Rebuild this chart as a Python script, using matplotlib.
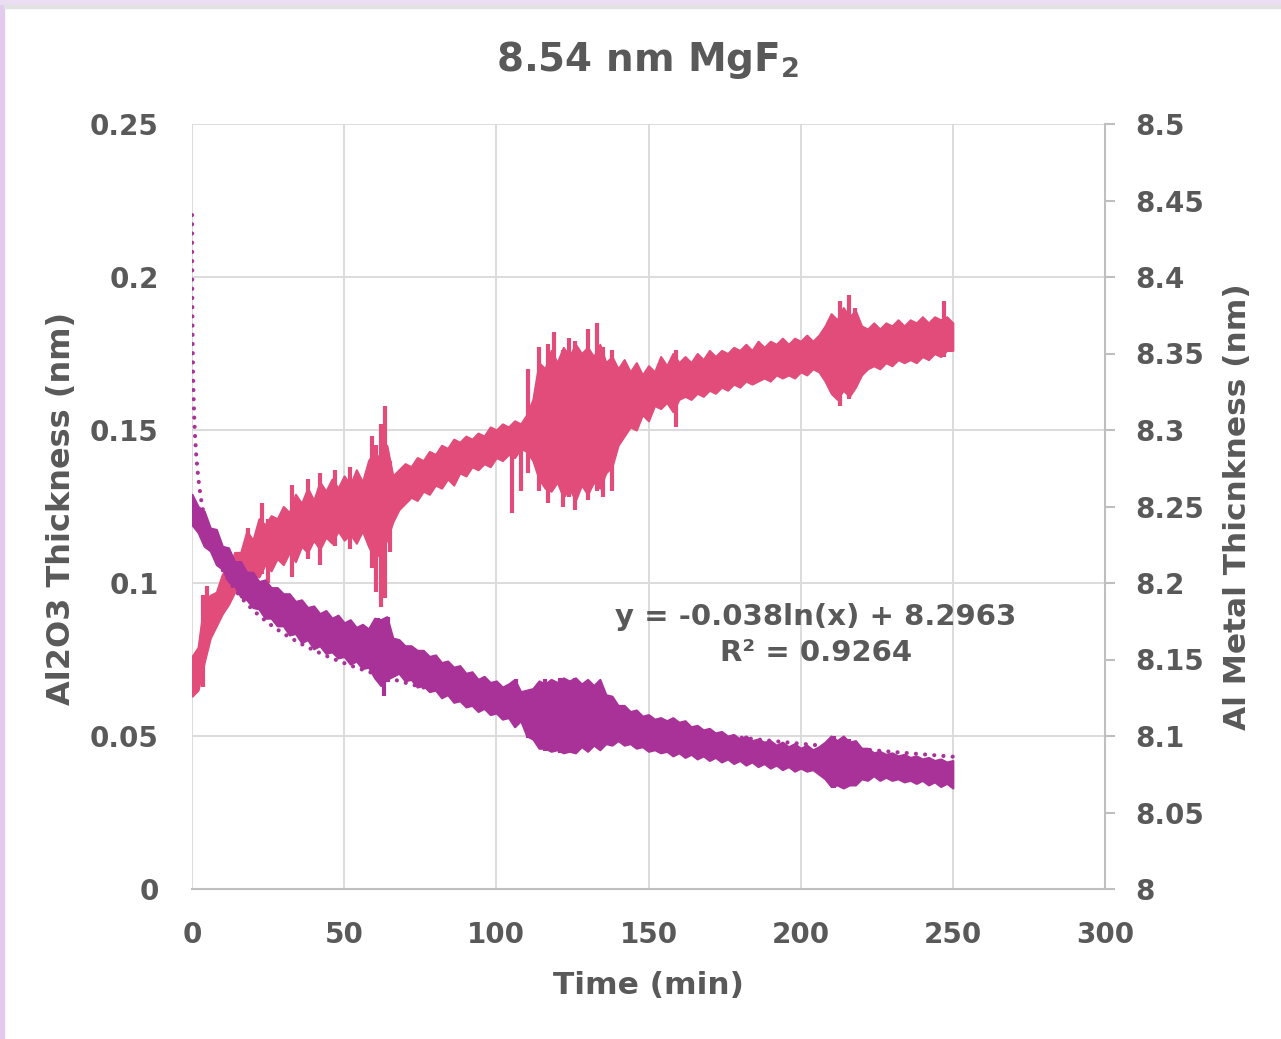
import numpy as np
import matplotlib
matplotlib.use("Agg")
import matplotlib.pyplot as plt
from matplotlib.patches import Rectangle

# sample times (min), every 2 min
t_grid = list(range(0, 251, 2))

# Al2O3 thickness (left axis, nm): lower / upper edge of the noisy trace
ox_lo = [0.063, 0.065, 0.074, 0.082, 0.086, 0.090, 0.093, 0.097, 0.099, 0.101,
         0.103, 0.102, 0.106, 0.104, 0.108, 0.106, 0.110, 0.107, 0.112, 0.110,
         0.114, 0.111, 0.115, 0.113, 0.117, 0.114, 0.116, 0.113, 0.117, 0.112,
         0.108, 0.110, 0.114, 0.120, 0.124, 0.126, 0.128, 0.127, 0.130, 0.129,
         0.132, 0.131, 0.134, 0.132, 0.136, 0.135, 0.138, 0.137, 0.139, 0.138,
         0.141, 0.140, 0.142, 0.141, 0.144, 0.143, 0.140, 0.134, 0.131, 0.130,
         0.133, 0.128, 0.131, 0.127, 0.132, 0.129, 0.133, 0.131, 0.136, 0.138,
         0.145, 0.148, 0.151, 0.150, 0.155, 0.153, 0.158, 0.157, 0.159, 0.156,
         0.160, 0.161, 0.160, 0.162, 0.161, 0.163, 0.162, 0.164, 0.163, 0.165,
         0.164, 0.166, 0.165, 0.166, 0.167, 0.166, 0.168, 0.167, 0.168, 0.167,
         0.169, 0.168, 0.170, 0.169, 0.166, 0.162, 0.160, 0.163, 0.161, 0.164,
         0.168, 0.170, 0.171, 0.170, 0.172, 0.171, 0.173, 0.172, 0.173, 0.172,
         0.174, 0.173, 0.175, 0.174, 0.176, 0.176]
ox_hi = [0.076, 0.079, 0.094, 0.096, 0.097, 0.103, 0.104, 0.110, 0.110, 0.117,
         0.114, 0.121, 0.119, 0.122, 0.121, 0.125, 0.123, 0.129, 0.126, 0.131,
         0.127, 0.133, 0.130, 0.134, 0.131, 0.135, 0.132, 0.137, 0.133, 0.140,
         0.143, 0.140, 0.145, 0.135, 0.137, 0.139, 0.138, 0.141, 0.140, 0.143,
         0.142, 0.145, 0.144, 0.147, 0.146, 0.148, 0.147, 0.149, 0.148, 0.151,
         0.150, 0.152, 0.151, 0.153, 0.152, 0.155, 0.160, 0.172, 0.170, 0.176,
         0.172, 0.177, 0.174, 0.178, 0.175, 0.177, 0.174, 0.178, 0.172, 0.174,
         0.170, 0.173, 0.169, 0.172, 0.168, 0.171, 0.169, 0.174, 0.171, 0.175,
         0.172, 0.174, 0.172, 0.175, 0.173, 0.176, 0.174, 0.176, 0.175, 0.177,
         0.176, 0.178, 0.176, 0.179, 0.177, 0.179, 0.178, 0.180, 0.178, 0.180,
         0.179, 0.181, 0.179, 0.181, 0.184, 0.188, 0.186, 0.190, 0.187, 0.189,
         0.184, 0.183, 0.185, 0.183, 0.185, 0.184, 0.186, 0.184, 0.186, 0.185,
         0.187, 0.185, 0.187, 0.186, 0.187, 0.185]
# isolated spikes: time, low, high
ox_spk_t = [3.5, 5, 18.5, 23, 25, 33, 38, 42, 47, 52, 59, 60.5, 62, 63.5, 65, 105, 108,
            110.5, 114, 117, 119, 122, 124, 126, 130, 133, 135, 138, 159, 213, 216, 218, 247]
ox_spk_lo = [0.066, 0.078, 0.100, 0.103, 0.100, 0.102, 0.108, 0.106, 0.112, 0.111, 0.105,
             0.097, 0.092, 0.095, 0.110, 0.123, 0.130, 0.136, 0.130, 0.126, 0.132, 0.125,
             0.128, 0.124, 0.127, 0.130, 0.128, 0.130, 0.151, 0.158, 0.160, 0.165, 0.174]
ox_spk_hi = [0.096, 0.099, 0.118, 0.126, 0.121, 0.132, 0.134, 0.136, 0.137, 0.138, 0.148,
             0.145, 0.152, 0.158, 0.140, 0.150, 0.150, 0.170, 0.177, 0.178, 0.182, 0.176,
             0.180, 0.179, 0.183, 0.185, 0.177, 0.176, 0.176, 0.192, 0.194, 0.190, 0.192]

# Al metal thickness (right axis, nm)
al_lo = [8.238, 8.233, 8.224, 8.221, 8.212, 8.209, 8.201, 8.198, 8.191, 8.189,
         8.184, 8.183, 8.177, 8.177, 8.172, 8.172, 8.166, 8.167, 8.161, 8.163,
         8.157, 8.159, 8.154, 8.155, 8.151, 8.152, 8.147, 8.149, 8.144, 8.145,
         8.138, 8.133, 8.137, 8.139, 8.141, 8.136, 8.137, 8.132, 8.133, 8.129,
         8.130, 8.125, 8.127, 8.122, 8.123, 8.119, 8.120, 8.116, 8.118, 8.114,
         8.115, 8.111, 8.112, 8.106, 8.110, 8.100, 8.098, 8.092, 8.092, 8.090,
         8.091, 8.089, 8.090, 8.089, 8.093, 8.090, 8.094, 8.091, 8.095, 8.094,
         8.097, 8.094, 8.095, 8.092, 8.093, 8.090, 8.091, 8.089, 8.090, 8.087,
         8.089, 8.086, 8.088, 8.085, 8.087, 8.084, 8.086, 8.083, 8.085, 8.082,
         8.084, 8.081, 8.083, 8.080, 8.082, 8.079, 8.081, 8.078, 8.080, 8.077,
         8.079, 8.077, 8.078, 8.075, 8.072, 8.067, 8.068, 8.066, 8.068, 8.068,
         8.072, 8.071, 8.074, 8.071, 8.073, 8.071, 8.072, 8.070, 8.071, 8.069,
         8.071, 8.068, 8.070, 8.067, 8.069, 8.066]
al_hi = [8.258, 8.250, 8.247, 8.236, 8.235, 8.224, 8.223, 8.214, 8.214, 8.207,
         8.207, 8.201, 8.202, 8.197, 8.197, 8.193, 8.193, 8.188, 8.189, 8.184,
         8.185, 8.180, 8.182, 8.177, 8.179, 8.174, 8.176, 8.171, 8.173, 8.170,
         8.177, 8.176, 8.178, 8.164, 8.163, 8.159, 8.159, 8.156, 8.156, 8.152,
         8.153, 8.148, 8.149, 8.145, 8.146, 8.141, 8.142, 8.137, 8.139, 8.135,
         8.136, 8.132, 8.134, 8.137, 8.129, 8.130, 8.131, 8.136, 8.134, 8.137,
         8.135, 8.138, 8.136, 8.138, 8.134, 8.137, 8.133, 8.137, 8.127, 8.126,
         8.120, 8.120, 8.116, 8.117, 8.113, 8.114, 8.111, 8.112, 8.110, 8.112,
         8.109, 8.110, 8.106, 8.107, 8.104, 8.105, 8.102, 8.103, 8.100, 8.101,
         8.098, 8.100, 8.097, 8.098, 8.096, 8.097, 8.094, 8.096, 8.093, 8.095,
         8.092, 8.094, 8.091, 8.093, 8.096, 8.100, 8.097, 8.100, 8.096, 8.097,
         8.092, 8.092, 8.089, 8.090, 8.088, 8.089, 8.087, 8.088, 8.086, 8.087,
         8.085, 8.086, 8.084, 8.085, 8.083, 8.084]
al_spk_t = [61, 63, 64.5, 106.5, 110.5, 116, 121, 126, 134, 211, 216]
al_spk_lo = [8.140, 8.126, 8.135, 8.108, 8.099, 8.090, 8.089, 8.090, 8.093, 8.066, 8.067]
al_spk_hi = [8.177, 8.175, 8.178, 8.137, 8.125, 8.137, 8.138, 8.138, 8.136, 8.100, 8.098]

# log trendline as printed on the chart
fit_a = -0.038
fit_b = 8.2963
fit_t0, fit_t1 = 0.0225, 250

PINK = "#E24C7A"
PURPLE = "#A93299"
GREY = "#595959"
FONT = "DejaVu Sans"
W, H = 1281, 1039

fig = plt.figure(figsize=(W/100, H/100), dpi=100)
ax = fig.add_axes([192/W, 1 - 889/H, (1105-192)/W, (889-124)/H])
ax2 = ax.twinx()

ax.fill_between(t_grid, ox_lo, ox_hi, color=PINK, lw=1.5, zorder=3)
ax.vlines(ox_spk_t, ox_spk_lo, ox_spk_hi, color=PINK, lw=3, zorder=3)

ax2.fill_between(t_grid, al_lo, al_hi, color=PURPLE, lw=1.5, zorder=3)
ax2.vlines(al_spk_t, al_spk_lo, al_spk_hi, color=PURPLE, lw=3, zorder=3)
tt = np.geomspace(fit_t0, fit_t1, 4000)
ax2.plot(tt, fit_a*np.log(tt) + fit_b, color=PURPLE, lw=3,
         linestyle=(0, (0.01, 2.2)), dash_capstyle="round", zorder=4)

ax.set_xlim(0, 300)
ax.set_ylim(0, 0.25)
ax2.set_ylim(8, 8.5)
ax.set_xticks(range(0, 301, 50))
ax.set_yticks([0, 0.05, 0.1, 0.15, 0.2, 0.25])
ax.set_yticklabels(["0", "0.05", "0.1", "0.15", "0.2", "0.25"])
ax2.set_yticks(np.arange(8, 8.501, 0.05))
ax2.set_yticklabels(["8", "8.05", "8.1", "8.15", "8.2", "8.25", "8.3", "8.35",
                     "8.4", "8.45", "8.5"])

ax.grid(True, color="#D9D9D9", lw=1.3)
ax.set_axisbelow(True)
for s in ["top", "left", "right"]:
    ax.spines[s].set_visible(False)
for s in ["top", "left", "bottom"]:
    ax2.spines[s].set_visible(False)
ax.spines["bottom"].set_color("#BFBFBF")
ax.spines["bottom"].set_linewidth(1.5)
ax2.spines["right"].set_color("#BFBFBF")
ax2.spines["right"].set_linewidth(1.5)

ax.tick_params(axis="x", length=0, pad=23)
ax.tick_params(axis="y", length=0, pad=24)
ax2.tick_params(axis="y", length=7, width=1.5, color="#BFBFBF", direction="out", pad=15)
for lab in ax.get_xticklabels() + ax.get_yticklabels() + ax2.get_yticklabels():
    lab.set_fontsize(20)
    lab.set_fontweight("bold")
    lab.set_color(GREY)
    lab.set_family(FONT)

lbl = dict(fontweight="bold", color=GREY, family=FONT, ha="center", va="center")
fig.text(648/W, 1 - 985/H, "Time (min)", fontsize=22.5, **lbl)
fig.text(62/W, 1 - 508/H, "Al2O3 Thickness (nm)", fontsize=23, rotation=90, **lbl)
fig.text(1238/W, 1 - 507/H, "Al Metal Thicnkness (nm)", fontsize=22.5, rotation=90, **lbl)

fig.text(648/W, 1 - 60/H, r"8.54 nm MgF$_\mathbf{2}$", fontsize=28, **lbl)

ax.text(205, 0.0830, "y = -0.038ln(x) + 8.2963\nR\u00b2 = 0.9264",
        ha="center", va="center", fontsize=21, fontweight="bold", color=GREY,
        family=FONT, linespacing=1.4, zorder=6)

# slide frame edges
fig.patches.append(Rectangle((0, 0), 4/W, 1, transform=fig.transFigure,
                             color="#E3CBEE", zorder=0))
fig.patches.append(Rectangle((0, 1 - 4/H), 1, 4/H, transform=fig.transFigure,
                             color="#EBDDF2", zorder=0))
fig.patches.append(Rectangle((4/W, 1 - 8/H), 1, 3/H, transform=fig.transFigure,
                             color="#E2E2E2", zorder=0))

fig.savefig("out.png", dpi=100)
